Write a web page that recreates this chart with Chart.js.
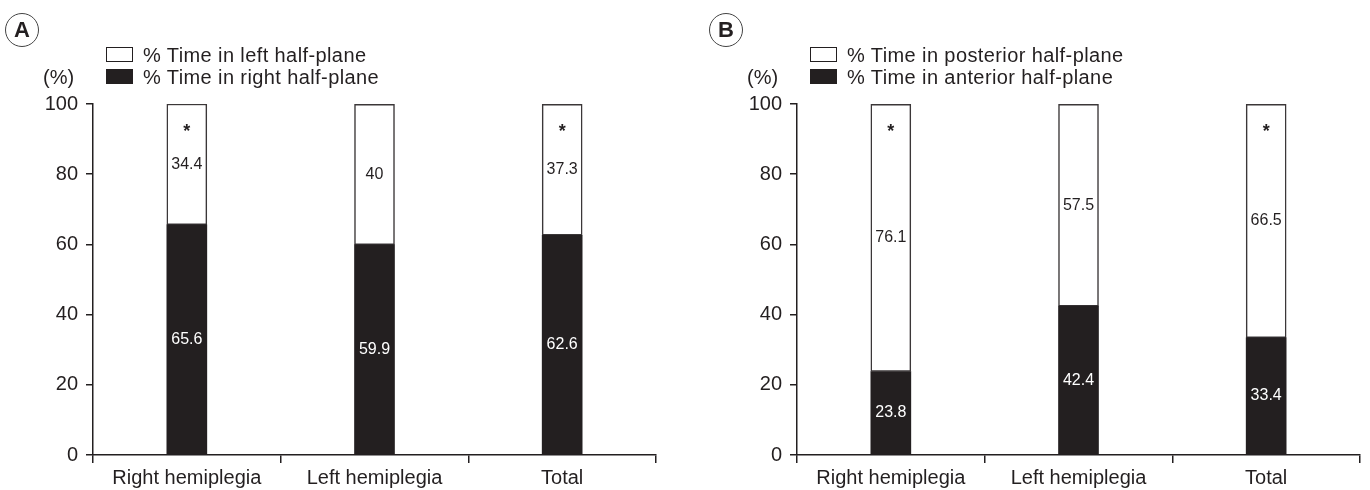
<!DOCTYPE html>
<html>
<head>
<meta charset="utf-8">
<script src="https://cdn.jsdelivr.net/npm/chart.js@4.4.1/dist/chart.umd.min.js"></script>
<style>
  html, body { margin: 0; padding: 0; background: #fff; }
  #wrap { position: relative; width: 1370px; height: 490px; overflow: hidden; font-family: "Liberation Sans", Arial, Helvetica, sans-serif; color: #231f20; }
  canvas { position: absolute; top: 0; }
  .circ { position: absolute; width: 32px; height: 32px; border: 1.2px solid #444; border-radius: 50%; font-size: 22px; font-weight: bold; text-align: center; line-height: 32px; }
  .unit { position: absolute; font-size: 20px; line-height: 20px; }
  .leg { position: absolute; font-size: 20px; line-height: 20px; white-space: nowrap; letter-spacing: 0.4px; }
  .sw { position: absolute; width: 27px; height: 15px; box-sizing: border-box; border: 1.5px solid #231f20; }
</style>
</head>
<body>
<div id="wrap">
  <canvas id="cA" width="666" height="490" style="left:0px"></canvas>
  <canvas id="cB" width="666" height="490" style="left:704px"></canvas>
  <div id="overlayA"></div>
  <div id="overlayB"></div>
</div>
<script>
// ---- data ----
const categories = ['Right hemiplegia', 'Left hemiplegia', 'Total'];
const yTicks = [0, 20, 40, 60, 80, 100];

const labelsA = ['% Time in left half-plane', '% Time in right half-plane'];
const rightHalfA = [65.6, 59.9, 62.6];
const leftHalfA = [34.4, 40, 37.3];
const significantA = [true, false, true];

const labelsB = ['% Time in posterior half-plane', '% Time in anterior half-plane'];
const anteriorB = [23.8, 42.4, 33.4];
const posteriorB = [76.1, 57.5, 66.5];
const significantB = [true, false, true];

const INK = '#231f20';
const FONT = '"Liberation Sans", Arial, Helvetica, sans-serif';

// overlays: panel letter, unit, legend
function buildOverlay(id, dx, letter, legendLabels) {
  const el = document.getElementById(id);
  el.innerHTML =
    '<div class="circ" style="left:' + (5 + dx) + 'px; top:13px;">' + letter + '</div>' +
    '<div class="unit" style="left:' + (43 + dx) + 'px; top:67px;">(%)</div>' +
    '<div class="sw" style="left:' + (106 + dx) + 'px; top:47px; background:#fff;"></div>' +
    '<div class="leg" style="left:' + (143 + dx) + 'px; top:45px;">' + legendLabels[0] + '</div>' +
    '<div class="sw" style="left:' + (106 + dx) + 'px; top:69px; background:' + INK + ';"></div>' +
    '<div class="leg" style="left:' + (143 + dx) + 'px; top:67px;">' + legendLabels[1] + '</div>';
}
buildOverlay('overlayA', 0, 'A', labelsA);
buildOverlay('overlayB', 704, 'B', labelsB);

const valuePlugin = {
  id: 'valueLabels',
  afterDatasetsDraw(chart) {
    const ctx = chart.ctx;
    ctx.save();
    ctx.textAlign = 'center';
    ctx.textBaseline = 'middle';
    ctx.font = '16px ' + FONT;
    chart.data.datasets.forEach((ds, i) => {
      const meta = chart.getDatasetMeta(i);
      meta.data.forEach((bar, j) => {
        ctx.fillStyle = ds.labelColor;
        ctx.fillText(String(ds.data[j]), bar.x, (bar.y + bar.base) / 2);
      });
    });
    const sig = chart.options.plugins.valueLabels.significant;
    const topMeta = chart.getDatasetMeta(chart.data.datasets.length - 1);
    ctx.font = 'bold 18px ' + FONT;
    ctx.fillStyle = INK;
    topMeta.data.forEach((bar, j) => {
      if (sig[j]) ctx.fillText('*', bar.x, bar.y + 28);
    });
    ctx.restore();
  }
};

function makeChart(canvasId, bottomData, topData, sig) {
  return new Chart(document.getElementById(canvasId), {
    type: 'bar',
    data: {
      labels: categories,
      datasets: [
        { data: bottomData, backgroundColor: INK, borderColor: INK, borderWidth: 0, labelColor: '#ffffff', barThickness: 40 },
        { data: topData, backgroundColor: '#ffffff', borderColor: '#3b3738', borderWidth: 1.5, borderSkipped: false, labelColor: INK, barThickness: 40 }
      ]
    },
    options: {
      responsive: false,
      animation: false,
      layout: { padding: { top: 104, right: 10, left: 0, bottom: 0 } },
      plugins: { legend: { display: false }, tooltip: { enabled: false }, valueLabels: { significant: sig } },
      scales: {
        x: {
          stacked: true,
          grid: { display: true, drawOnChartArea: false, drawTicks: true, tickLength: 8, color: INK, lineWidth: 1.5, offset: true },
          border: { display: true, color: INK, width: 1.5 },
          ticks: { color: INK, font: { size: 20, family: FONT }, padding: 3 },
          afterFit(scale) { scale.height = 35; }
        },
        y: {
          stacked: true,
          min: 0, max: 100,
          afterBuildTicks(scale) { scale.ticks = yTicks.map(v => ({ value: v })); },
          grid: { display: true, drawOnChartArea: false, drawTicks: true, tickLength: 7, color: INK, lineWidth: 1.5 },
          border: { display: true, color: INK, width: 1.5 },
          ticks: { color: INK, font: { size: 20, family: FONT }, padding: 8 },
          afterFit(scale) { scale.width = 93; }
        }
      }
    },
    plugins: [valuePlugin]
  });
}

makeChart('cA', rightHalfA, leftHalfA, significantA);
makeChart('cB', anteriorB, posteriorB, significantB);
</script>
</body>
</html>
